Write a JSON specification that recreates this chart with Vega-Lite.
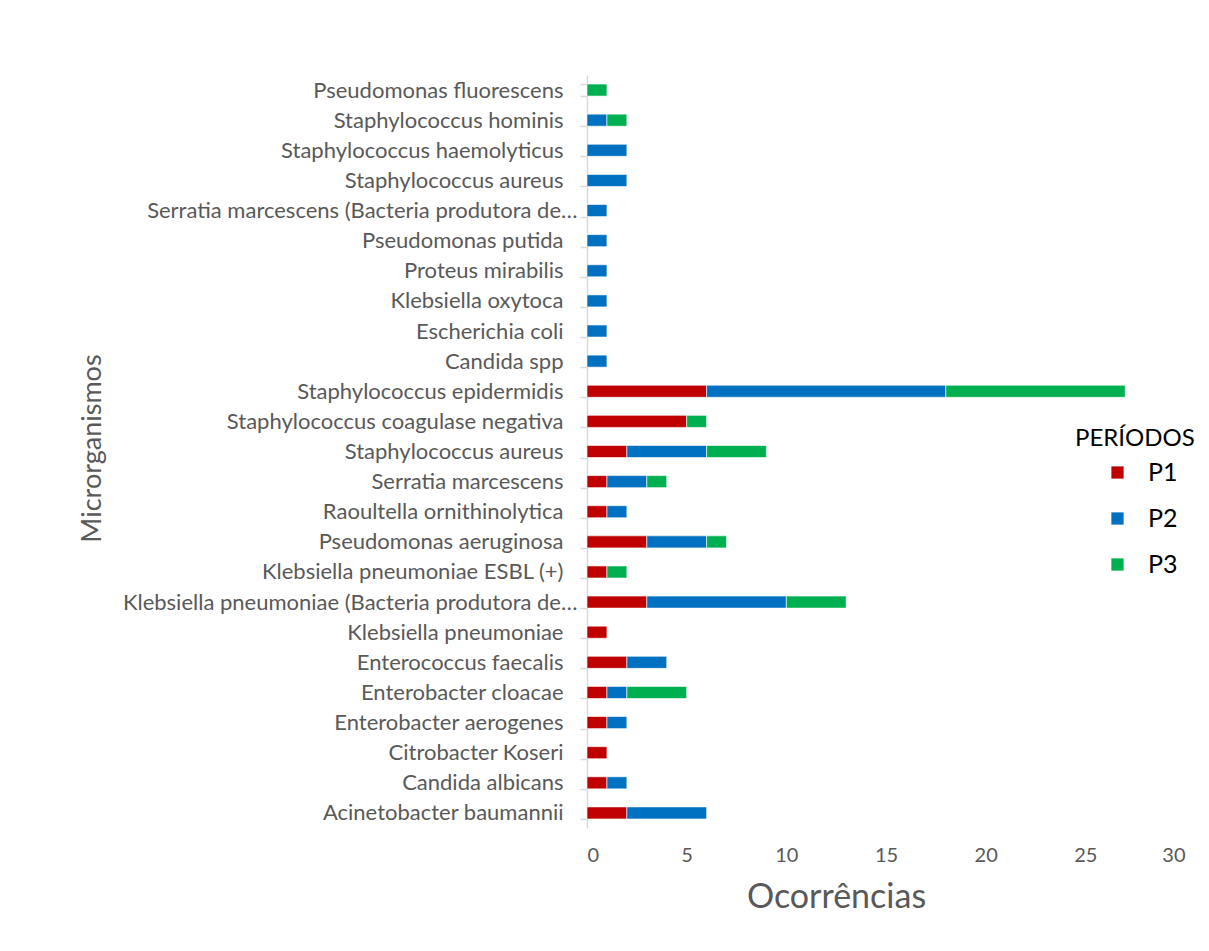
{
  "$schema": "https://vega.github.io/schema/vega-lite/v6.json",
  "autosize": {"type": "none"},
  "padding": {"left": 587, "top": 75, "right": 24, "bottom": 123},
  "width": 598,
  "height": 753,
  "background": "white",
  "config": {
    "view": {"stroke": null},
    "font": "Lato"
  },
  "data": {
    "values": [
      {"organismo": "Pseudomonas fluorescens", "ordem": 1, "periodo": "P3", "ocorrencias": 1},
      {"organismo": "Staphylococcus hominis", "ordem": 2, "periodo": "P2", "ocorrencias": 1},
      {"organismo": "Staphylococcus hominis", "ordem": 2, "periodo": "P3", "ocorrencias": 1},
      {"organismo": "Staphylococcus haemolyticus", "ordem": 3, "periodo": "P2", "ocorrencias": 2},
      {"organismo": "Staphylococcus aureus\u200b", "ordem": 4, "periodo": "P2", "ocorrencias": 2},
      {"organismo": "Serratia marcescens (Bacteria produtora de…", "ordem": 5, "periodo": "P2", "ocorrencias": 1},
      {"organismo": "Pseudomonas putida", "ordem": 6, "periodo": "P2", "ocorrencias": 1},
      {"organismo": "Proteus mirabilis", "ordem": 7, "periodo": "P2", "ocorrencias": 1},
      {"organismo": "Klebsiella oxytoca", "ordem": 8, "periodo": "P2", "ocorrencias": 1},
      {"organismo": "Escherichia coli", "ordem": 9, "periodo": "P2", "ocorrencias": 1},
      {"organismo": "Candida spp", "ordem": 10, "periodo": "P2", "ocorrencias": 1},
      {"organismo": "Staphylococcus epidermidis", "ordem": 11, "periodo": "P1", "ocorrencias": 6},
      {"organismo": "Staphylococcus epidermidis", "ordem": 11, "periodo": "P2", "ocorrencias": 12},
      {"organismo": "Staphylococcus epidermidis", "ordem": 11, "periodo": "P3", "ocorrencias": 9},
      {"organismo": "Staphylococcus coagulase negativa", "ordem": 12, "periodo": "P1", "ocorrencias": 5},
      {"organismo": "Staphylococcus coagulase negativa", "ordem": 12, "periodo": "P3", "ocorrencias": 1},
      {"organismo": "Staphylococcus aureus", "ordem": 13, "periodo": "P1", "ocorrencias": 2},
      {"organismo": "Staphylococcus aureus", "ordem": 13, "periodo": "P2", "ocorrencias": 4},
      {"organismo": "Staphylococcus aureus", "ordem": 13, "periodo": "P3", "ocorrencias": 3},
      {"organismo": "Serratia marcescens", "ordem": 14, "periodo": "P1", "ocorrencias": 1},
      {"organismo": "Serratia marcescens", "ordem": 14, "periodo": "P2", "ocorrencias": 2},
      {"organismo": "Serratia marcescens", "ordem": 14, "periodo": "P3", "ocorrencias": 1},
      {"organismo": "Raoultella ornithinolytica", "ordem": 15, "periodo": "P1", "ocorrencias": 1},
      {"organismo": "Raoultella ornithinolytica", "ordem": 15, "periodo": "P2", "ocorrencias": 1},
      {"organismo": "Pseudomonas aeruginosa", "ordem": 16, "periodo": "P1", "ocorrencias": 3},
      {"organismo": "Pseudomonas aeruginosa", "ordem": 16, "periodo": "P2", "ocorrencias": 3},
      {"organismo": "Pseudomonas aeruginosa", "ordem": 16, "periodo": "P3", "ocorrencias": 1},
      {"organismo": "Klebsiella pneumoniae ESBL (+)", "ordem": 17, "periodo": "P1", "ocorrencias": 1},
      {"organismo": "Klebsiella pneumoniae ESBL (+)", "ordem": 17, "periodo": "P3", "ocorrencias": 1},
      {"organismo": "Klebsiella pneumoniae (Bacteria produtora de…", "ordem": 18, "periodo": "P1", "ocorrencias": 3},
      {"organismo": "Klebsiella pneumoniae (Bacteria produtora de…", "ordem": 18, "periodo": "P2", "ocorrencias": 7},
      {"organismo": "Klebsiella pneumoniae (Bacteria produtora de…", "ordem": 18, "periodo": "P3", "ocorrencias": 3},
      {"organismo": "Klebsiella pneumoniae", "ordem": 19, "periodo": "P1", "ocorrencias": 1},
      {"organismo": "Enterococcus faecalis", "ordem": 20, "periodo": "P1", "ocorrencias": 2},
      {"organismo": "Enterococcus faecalis", "ordem": 20, "periodo": "P2", "ocorrencias": 2},
      {"organismo": "Enterobacter cloacae", "ordem": 21, "periodo": "P1", "ocorrencias": 1},
      {"organismo": "Enterobacter cloacae", "ordem": 21, "periodo": "P2", "ocorrencias": 1},
      {"organismo": "Enterobacter cloacae", "ordem": 21, "periodo": "P3", "ocorrencias": 3},
      {"organismo": "Enterobacter aerogenes", "ordem": 22, "periodo": "P1", "ocorrencias": 1},
      {"organismo": "Enterobacter aerogenes", "ordem": 22, "periodo": "P2", "ocorrencias": 1},
      {"organismo": "Citrobacter Koseri", "ordem": 23, "periodo": "P1", "ocorrencias": 1},
      {"organismo": "Candida albicans", "ordem": 24, "periodo": "P1", "ocorrencias": 1},
      {"organismo": "Candida albicans", "ordem": 24, "periodo": "P2", "ocorrencias": 1},
      {"organismo": "Acinetobacter baumannii", "ordem": 25, "periodo": "P1", "ocorrencias": 2},
      {"organismo": "Acinetobacter baumannii", "ordem": 25, "periodo": "P2", "ocorrencias": 4}
    ]
  },
  "mark": {"type": "bar", "stroke": "white", "strokeWidth": 0.6},
  "encoding": {
    "y": {
      "field": "organismo",
      "type": "nominal",
      "sort": {"field": "ordem", "op": "min", "order": "ascending"},
      "scale": {"paddingInner": 0.6, "paddingOuter": 0.3},
      "axis": {
        "title": "Microrganismos",
        "titleFont": "Lato",
        "titleFontSize": 27,
        "titleFontWeight": "normal",
        "titleColor": "#595959",
        "titleX": -495,
        "titleY": 373,
        "titleBaseline": "middle",
        "labelFont": "Lato",
        "labelFontSize": 22,
        "labelColor": "#595959",
        "labelLimit": 0,
        "labelPadding": {"condition": {"test": "indexof(datum.label, '…') >= 0", "value": 3}, "value": 17},
        "tickSize": 7,
        "tickColor": "#d9d9d9",
        "tickWidth": 1.5,
        "tickBand": "extent",
        "domainColor": "#d9d9d9",
        "domainWidth": 1.5,
        "grid": false
      }
    },
    "x": {
      "field": "ocorrencias",
      "type": "quantitative",
      "aggregate": "sum",
      "stack": "zero",
      "scale": {"domain": [0, 30], "nice": false},
      "axis": {
        "title": "Ocorrências",
        "titleFont": "Lato",
        "titleFontSize": 34,
        "titleFontWeight": "normal",
        "titleColor": "#595959",
        "titleX": 249,
        "titleY": 69,
        "titleBaseline": "middle",
        "values": [0, 5, 10, 15, 20, 25, 30],
        "labelFont": "Lato",
        "labelFontSize": 20,
        "labelColor": "#595959",
        "labelPadding": 17,
        "ticks": false,
        "tickSize": 0,
        "domain": false,
        "grid": false
      }
    },
    "color": {
      "field": "periodo",
      "type": "nominal",
      "scale": {"domain": ["P1", "P2", "P3"], "range": ["#C00000", "#0070C0", "#00B050"]},
      "legend": {
        "title": "PERÍODOS",
        "orient": "none",
        "legendX": 488,
        "legendY": 352,
        "titleFont": "Lato",
        "titleFontSize": 24,
        "titleFontWeight": "normal",
        "titleColor": "black",
        "titlePadding": 9,
        "labelFont": "Lato",
        "labelFontSize": 25,
        "labelColor": "black",
        "symbolType": "square",
        "symbolSize": 150,
        "symbolStrokeWidth": 0,
        "symbolOffset": 30,
        "labelOffset": 18,
        "rowPadding": 20
      }
    }
  }
}
